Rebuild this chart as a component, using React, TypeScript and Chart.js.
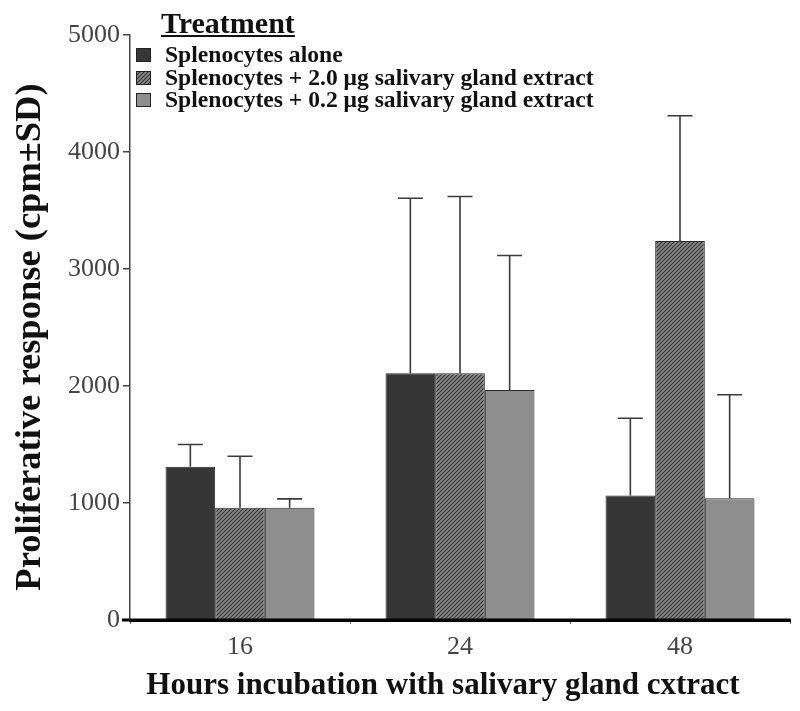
import React, { useEffect, useRef } from "react";
import { Chart, registerables } from "chart.js";

Chart.register(...registerables);

const categories = ["16", "24", "48"];
const seriesNames = [
  "Splenocytes alone",
  "Splenocytes + 2.0 \u03bcg salivary gland extract",
  "Splenocytes + 0.2 \u03bcg salivary gland extract",
];
const aloneValues = [1310, 2110, 1065];
const highDoseValues = [960, 2110, 3240];
const lowDoseValues = [960, 1965, 1040];
const aloneSD = [190, 1495, 660];
const highDoseSD = [440, 1510, 1070];
const lowDoseSD = [75, 1150, 885];
const yMin = 0;
const yMax = 5000;
const yStep = 1000;
const legendTitle = "Treatment";
const yTitle = "Proliferative response (cpm\u00b1SD)";
const xTitle = "Hours incubation with salivary gland cxtract";

const SERIF = "'Liberation Serif', 'Times New Roman', serif";

function makeHatch(): CanvasPattern | string {
  const c = document.createElement("canvas");
  c.width = 4;
  c.height = 4;
  const g = c.getContext("2d");
  if (!g) return "#777";
  g.fillStyle = "#8a8a8a";
  g.fillRect(0, 0, 4, 4);
  g.strokeStyle = "#333";
  g.lineWidth = 1.1;
  g.beginPath();
  g.moveTo(0, 4);
  g.lineTo(4, 0);
  g.moveTo(-1, 1);
  g.lineTo(1, -1);
  g.moveTo(3, 5);
  g.lineTo(5, 3);
  g.stroke();
  const p = g.createPattern(c, "repeat");
  return p || "#777";
}

export default function App() {
  const ref = useRef<HTMLCanvasElement | null>(null);

  useEffect(() => {
    const canvas = ref.current;
    if (!canvas) return;
    const hatch = makeHatch();
    const fills: any[] = ["#363636", hatch, "#8e8e8e"];
    const sds = [aloneSD, highDoseSD, lowDoseSD];

    const errorBars = {
      id: "errorBars",
      afterDatasetsDraw(chart: any) {
        const ctx = chart.ctx;
        const ys = chart.scales.y;
        ctx.save();
        ctx.strokeStyle = "#3a3a3a";
        ctx.lineWidth = 1.6;
        chart.data.datasets.forEach((ds: any, di: number) => {
          const meta = chart.getDatasetMeta(di);
          meta.data.forEach((el: any, i: number) => {
            const v = ds.data[i];
            const top = ys.getPixelForValue(v + sds[di][i]);
            ctx.beginPath();
            ctx.moveTo(el.x, el.y);
            ctx.lineTo(el.x, top);
            ctx.moveTo(el.x - 12.5, top);
            ctx.lineTo(el.x + 12.5, top);
            ctx.stroke();
          });
        });
        ctx.restore();
      },
    };

    const decorations = {
      id: "decorations",
      afterDraw(chart: any) {
        const ctx = chart.ctx;
        const area = chart.chartArea;
        ctx.save();
        ctx.strokeStyle = "#000";
        ctx.lineWidth = 3;
        ctx.beginPath();
        ctx.moveTo(area.left - 8, area.bottom);
        ctx.lineTo(area.right, area.bottom);
        ctx.stroke();

        ctx.fillStyle = "#111";
        ctx.font = `bold 30px ${SERIF}`;
        ctx.textBaseline = "alphabetic";
        ctx.textAlign = "left";
        const tx = 161;
        const ty = 33;
        ctx.fillText(legendTitle, tx, ty);
        const tw = ctx.measureText(legendTitle).width;
        ctx.lineWidth = 2;
        ctx.strokeStyle = "#111";
        ctx.beginPath();
        ctx.moveTo(tx, ty + 3);
        ctx.lineTo(tx + tw, ty + 3);
        ctx.stroke();

        ctx.font = `bold 23.6px ${SERIF}`;
        const baselines = [62, 85, 107];
        seriesNames.forEach((name, i) => {
          const by = baselines[i];
          ctx.fillStyle = fills[i];
          ctx.fillRect(136, by - 14, 15, 14);
          ctx.lineWidth = 1;
          ctx.strokeStyle = "#222";
          ctx.strokeRect(136.5, by - 13.5, 14, 13);
          ctx.fillStyle = "#111";
          ctx.fillText(name, 165, by);
        });

        ctx.save();
        ctx.translate(31, 337);
        ctx.rotate(-Math.PI / 2);
        ctx.textAlign = "center";
        ctx.textBaseline = "middle";
        ctx.font = `bold 36.5px ${SERIF}`;
        ctx.fillStyle = "#111";
        ctx.fillText(yTitle, 0, 0);
        ctx.restore();

        ctx.textAlign = "center";
        ctx.textBaseline = "middle";
        ctx.font = `bold 31px ${SERIF}`;
        ctx.fillStyle = "#111";
        ctx.fillText(xTitle, 443, 686);
        ctx.restore();
      },
    };

    const chart = new Chart(canvas, {
      type: "bar",
      data: {
        labels: categories,
        datasets: [
          { label: seriesNames[0], data: aloneValues, backgroundColor: fills[0] },
          { label: seriesNames[1], data: highDoseValues, backgroundColor: fills[1] },
          { label: seriesNames[2], data: lowDoseValues, backgroundColor: fills[2] },
        ].map((d) => ({
          ...d,
          borderColor: "#2a2a2a",
          borderWidth: 1,
          borderSkipped: "bottom" as const,
          categoryPercentage: 0.677,
          barPercentage: 1.0,
        })),
      },
      options: {
        responsive: false,
        animation: false,
        devicePixelRatio: 1,
        layout: { padding: { top: 35, left: 0, right: 10, bottom: 0 } },
        plugins: {
          legend: { display: false },
          tooltip: { enabled: false },
          title: { display: false },
        },
        scales: {
          x: {
            type: "category",
            offset: true,
            grid: {
              display: true,
              drawOnChartArea: false,
              drawTicks: true,
              tickLength: 4,
              color: "#666",
              lineWidth: 1,
            },
            border: { display: true, color: "#000", width: 3 },
            ticks: {
              color: "#444",
              font: { family: SERIF, size: 26 },
              padding: 8,
            },
            afterFit(scale: any) {
              scale.height = 91;
            },
          },
          y: {
            min: yMin,
            max: yMax,
            grid: {
              display: true,
              drawOnChartArea: false,
              drawTicks: true,
              tickLength: 7,
              color: "#444",
              lineWidth: 1.5,
            },
            border: { display: true, color: "#444", width: 1.5 },
            ticks: {
              stepSize: yStep,
              color: "#444",
              font: { family: SERIF, size: 26 },
              padding: 3,
              callback: (v: any) => String(v),
            },
            afterFit(scale: any) {
              scale.width = 130;
            },
          },
        },
      },
      plugins: [errorBars, decorations],
    });

    return () => chart.destroy();
  }, []);

  return (
    <div style={{ position: "fixed", left: 0, top: 0, width: 800, height: 711, background: "#fff" }}>
      <canvas ref={ref} width={800} height={711} style={{ width: 800, height: 711, display: "block" }} />
    </div>
  );
}
